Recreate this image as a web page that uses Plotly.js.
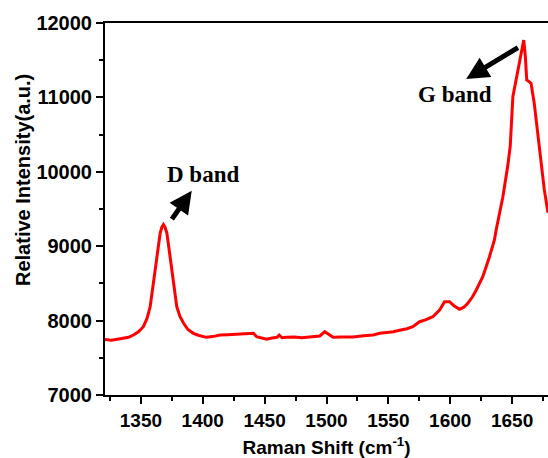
<!DOCTYPE html>
<html>
<head>
<meta charset="utf-8">
<script src="https://cdn.plot.ly/plotly-3.0.1.min.js"></script>
<style>html,body{margin:0;padding:0;background:#fff;}#chart{width:548px;height:458px;}</style>
</head>
<body>
<div id="chart"></div>
<script>
const ramanShift = [1321,1326,1331,1336,1340,1344,1348,1352,1355,1357.5,1360.2,1362.9,1365.6,1367,1368.2,1369.5,1371,1373.6,1376.3,1379,1381.5,1384.4,1388,1392.4,1397,1403,1408,1414,1420,1426,1432,1438,1441,1443.5,1447,1451.6,1456,1460,1461.8,1464,1467.7,1474,1480,1484,1490,1494.6,1498.6,1501.3,1505.3,1512,1521.5,1530,1537.6,1543,1548.4,1554,1559,1565,1569.8,1575.2,1580,1585.9,1591.4,1595.4,1599.4,1603,1607.5,1611,1614.2,1618,1621,1626.3,1631.7,1635.7,1637.1,1640,1642.4,1646.5,1648.5,1650.6,1653.2,1656.5,1659.4,1660.7,1661.8,1663.5,1665.3,1667.9,1672,1676,1679];
const intensity = [7745,7735,7750,7760,7775,7806,7850,7918,8030,8187,8505,8859,9177,9260,9290,9255,9177,8859,8505,8187,8060,7968,7880,7829,7800,7775,7785,7806,7810,7818,7825,7830,7829,7784,7770,7749,7765,7775,7806,7770,7775,7780,7770,7775,7785,7793,7851,7820,7775,7780,7780,7795,7806,7829,7837,7850,7870,7890,7918,7985,8010,8052,8142,8254,8254,8200,8152,8180,8232,8320,8411,8590,8859,9083,9218,9430,9650,10080,10350,11009,11250,11550,11771,11547,11234,11215,11190,10920,10337,9760,9450];
const xTickVals = [1350,1400,1450,1500,1550,1600,1650];
const yTickVals = [7000,8000,9000,10000,11000,12000];
const bandLabels = ['D band','G band'];
const bandTextX = [1400.2,1604];
const bandTextY = [9970,11041];
const arrowHeadX = [1391.1,1612.9];
const arrowHeadY = [9746,11247];
const arrowTailX = [1374.2,1655.9];
const arrowTailY = [9343,11681];

const trace = {
  x: ramanShift, y: intensity, type: 'scatter', mode: 'lines',
  line: {color: '#ff0000', width: 3}, showlegend: false, hoverinfo: 'skip'
};

const annotations = [];
for (let i = 0; i < bandLabels.length; i++) {
  annotations.push({
    x: bandTextX[i], y: bandTextY[i], xref: 'x', yref: 'y', text: '<b>' + bandLabels[i] + '</b>',
    showarrow: false, font: {family: 'Liberation Serif, Times New Roman, serif', size: 23, color: '#000'}
  });
}
const shapes = [];
for (let i = 0; i < bandLabels.length; i++) {
  annotations.push({
    x: arrowHeadX[i], y: arrowHeadY[i], xref: 'x', yref: 'y', axref: 'x', ayref: 'y',
    ax: arrowTailX[i], ay: arrowTailY[i], text: '', showarrow: true,
    arrowhead: 2, arrowsize: 0.9, arrowwidth: 5, arrowcolor: '#000'
  });
}
annotations.push({
  x: 0, y: 0, xref: 'paper', yref: 'paper', text: '<b>Relative Intensity(a.u.)</b>',
  textangle: -90, showarrow: false, xanchor: 'center', yanchor: 'middle',
  font: {family: 'Liberation Sans, Arial, sans-serif', size: 20, color: '#000'}
});

const layout = {
  width: 548, height: 458,
  margin: {l: 105, r: 0, t: 23, b: 63},
  paper_bgcolor: '#fff', plot_bgcolor: '#fff',
  font: {family: 'Liberation Sans, Arial, sans-serif', color: '#000'},
  xaxis: {
    range: [1321, 1679], tickvals: xTickVals, ticktext: xTickVals.map(v => '<b>' + v + '</b>'),
    ticks: 'outside', ticklen: 7, tickwidth: 2, tickcolor: '#000',
    minor: {dtick: 25, tick0: 1325, ticks: 'outside', ticklen: 4, tickwidth: 2, tickcolor: '#000'},
    showline: true, linewidth: 2, linecolor: '#000', mirror: true,
    showgrid: false, zeroline: false,
    tickfont: {size: 19, color: '#000'},
    title: {text: '<b>Raman Shift (cm<sup>-1</sup>)</b>', font: {size: 19, color: '#000'}, standoff: 15}
  },
  yaxis: {
    range: [7000, 12000], tickvals: yTickVals, ticktext: yTickVals.map(v => '<b>' + v + '</b>'),
    ticks: 'outside', ticklen: 7, tickwidth: 2, tickcolor: '#000',
    minor: {dtick: 500, tick0: 7000, ticks: 'outside', ticklen: 4, tickwidth: 2, tickcolor: '#000'},
    showline: true, linewidth: 2, linecolor: '#000', mirror: false,
    showgrid: false, zeroline: false,
    tickfont: {size: 20, color: '#000'}
  },
  annotations: annotations,
  shapes: shapes
};
// y-title position: centre at pixel (23, 180) of the 548x458 figure
const plotH = 458 - 23 - 63, plotW = 548 - 105;
const yt = annotations[annotations.length - 1];
yt.x = (23 - 105) / plotW;
yt.y = (395 - 180) / plotH;

Plotly.newPlot('chart', [trace], layout, {staticPlot: true, displayModeBar: false});
</script>
</body>
</html>
